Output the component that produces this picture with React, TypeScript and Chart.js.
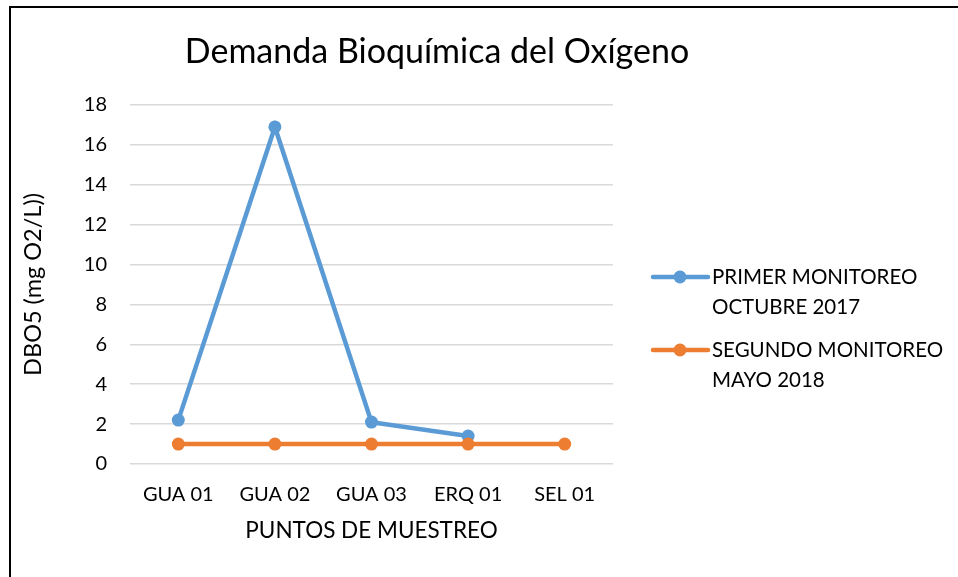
import React, { useEffect, useRef } from "react";
import { Chart, registerables } from "chart.js";

Chart.register(...registerables);

const categories = ["GUA 01", "GUA 02", "GUA 03", "ERQ 01", "SEL 01"];
const primerMonitoreo = [2.2, 16.9, 2.1, 1.4, null];
const segundoMonitoreo = [1, 1, 1, 1, 1];
const seriesLabels = [["PRIMER MONITOREO", "OCTUBRE 2017"], ["SEGUNDO MONITOREO", "MAYO 2018"]];
const chartTitle = "Demanda Bioquímica del Oxígeno";
const yTicks = { min: 0, max: 18, step: 2 };

const FONT = "Lato, 'Open Sans', sans-serif";
const BLUE = "#5B9BD5";
const ORANGE = "#ED7D31";

const titleAndLegendPlugin = {
  id: "titleAndLegend",
  afterDraw(chart: any) {
    const ctx = chart.ctx;
    ctx.save();
    // title
    ctx.fillStyle = "#000";
    ctx.font = `34px ${FONT}`;
    ctx.textAlign = "center";
    ctx.textBaseline = "middle";
    ctx.fillText(chartTitle, 437, 52);
    // legend
    const ds = chart.data.datasets;
    const x0 = 653;
    const startY = 277;
    const itemGap = 73;
    const lineGap = 30;
    ds.forEach((d: any, i: number) => {
      const y = startY + i * itemGap;
      ctx.strokeStyle = d.borderColor;
      ctx.lineWidth = d.borderWidth;
      ctx.lineCap = "round";
      ctx.beginPath();
      ctx.moveTo(x0, y);
      ctx.lineTo(x0 + 55, y);
      ctx.stroke();
      ctx.fillStyle = d.borderColor;
      ctx.beginPath();
      ctx.arc(x0 + 27, y, d.pointRadius, 0, Math.PI * 2);
      ctx.fill();
      ctx.fillStyle = "#000";
      ctx.font = `20.5px ${FONT}`;
      ctx.textBaseline = "middle";
      ctx.textAlign = "left";
      seriesLabels[i].forEach((t, j) => ctx.fillText(t, x0 + 59, y + j * lineGap));
    });
    ctx.restore();
  },
};

export default function App() {
  const ref = useRef<HTMLCanvasElement>(null);
  useEffect(() => {
    if (!ref.current) return;
    const chart = new Chart(ref.current, {
      type: "line",
      data: {
        labels: categories,
        datasets: [
          {
            label: seriesLabels[0].join(" "),
            data: primerMonitoreo,
            borderColor: BLUE,
            backgroundColor: BLUE,
            borderWidth: 4.5,
            pointRadius: 6.5,
            pointBorderWidth: 0,
            pointBackgroundColor: BLUE,
            order: 1,
            spanGaps: false,
          },
          {
            label: seriesLabels[1].join(" "),
            data: segundoMonitoreo,
            borderColor: ORANGE,
            backgroundColor: ORANGE,
            borderWidth: 4.5,
            pointRadius: 6.5,
            pointBorderWidth: 0,
            pointBackgroundColor: ORANGE,
            order: 0,
          },
        ],
      },
      options: {
        animation: false,
        responsive: false,
        layout: { padding: { left: 10, right: 345, top: 105, bottom: 0 } },
        plugins: {
          legend: { display: false },
          tooltip: { enabled: false },
          title: { display: false },
        },
        scales: {
          x: {
            offset: true,
            grid: { display: false, drawTicks: false },
            border: { display: false },
            ticks: { color: "#000", font: { family: FONT, size: 20 }, padding: 19 },
            title: {
              display: true,
              text: "PUNTOS DE MUESTREO",
              color: "#000",
              font: { family: FONT, size: 22.5 },
              padding: { top: 10, bottom: 33 },
            },
            afterFit(scale: any) {
              scale.height = 113;
            },
          },
          y: {
            min: yTicks.min,
            max: yTicks.max,
            ticks: { stepSize: yTicks.step, color: "#000", font: { family: FONT, size: 20 }, padding: 23 },
            grid: { color: "#D9D9D9", lineWidth: 1.5, drawTicks: false },
            border: { display: false },
            title: {
              display: true,
              text: "DBO5 (mg O2/L))",
              color: "#000",
              font: { family: FONT, size: 23.5 },
              padding: { top: 9, bottom: 10 },
            },
            afterFit(scale: any) {
              scale.width = 120;
            },
          },
        },
      },
      plugins: [titleAndLegendPlugin],
    });
    return () => chart.destroy();
  }, []);
  return (
    <div style={{ position: "absolute", left: 0, top: 0, width: 958, height: 577, background: "#fff", overflow: "hidden" }}>
      <canvas ref={ref} width={958} height={577} style={{ position: "absolute", left: 0, top: 0 }} />
      <div
        style={{
          position: "absolute",
          left: 9,
          top: 6,
          width: 1000,
          height: 1000,
          borderTop: "2px solid #000",
          borderLeft: "2px solid #000",
          pointerEvents: "none",
        }}
      />
    </div>
  );
}
